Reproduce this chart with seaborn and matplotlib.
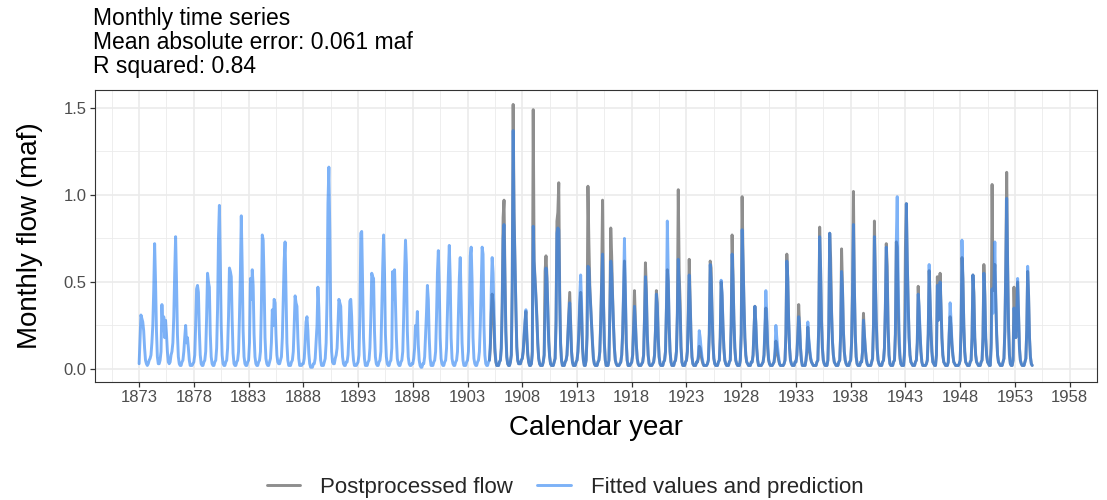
import numpy as np
import pandas as pd
import matplotlib
matplotlib.use("Agg")
import matplotlib.pyplot as plt
import seaborn as sns

# Monthly flow (maf), one row per calendar year, Jan..Dec
fitted_1870s = [  # 1873-1879
    [0.03, 0.17, 0.31, 0.29, 0.27, 0.22, 0.12, 0.05, 0.03, 0.02, 0.03, 0.05],
    [0.06, 0.08, 0.15, 0.25, 0.45, 0.72, 0.50, 0.22, 0.07, 0.03, 0.03, 0.05],
    [0.10, 0.37, 0.22, 0.30, 0.18, 0.28, 0.20, 0.10, 0.04, 0.03, 0.04, 0.08],
    [0.10, 0.15, 0.30, 0.55, 0.76, 0.50, 0.20, 0.07, 0.03, 0.02, 0.02, 0.04],
    [0.05, 0.10, 0.18, 0.25, 0.15, 0.18, 0.12, 0.05, 0.02, 0.02, 0.02, 0.03],
    [0.04, 0.08, 0.25, 0.46, 0.48, 0.44, 0.22, 0.08, 0.03, 0.02, 0.02, 0.04],
    [0.05, 0.10, 0.30, 0.55, 0.50, 0.47, 0.20, 0.07, 0.03, 0.02, 0.02, 0.04],
]
fitted_1880s = [
    [0.05, 0.12, 0.35, 0.75, 0.94, 0.60, 0.25, 0.08, 0.03, 0.02, 0.02, 0.04],
    [0.05, 0.12, 0.30, 0.58, 0.56, 0.53, 0.28, 0.09, 0.03, 0.02, 0.02, 0.04],
    [0.05, 0.10, 0.30, 0.55, 0.88, 0.58, 0.22, 0.07, 0.03, 0.02, 0.02, 0.04],
    [0.05, 0.15, 0.52, 0.40, 0.57, 0.48, 0.20, 0.07, 0.03, 0.02, 0.02, 0.04],
    [0.05, 0.10, 0.35, 0.77, 0.74, 0.50, 0.18, 0.06, 0.03, 0.02, 0.02, 0.04],
    [0.06, 0.15, 0.34, 0.25, 0.40, 0.38, 0.20, 0.08, 0.04, 0.03, 0.03, 0.05],
    [0.07, 0.18, 0.40, 0.62, 0.73, 0.45, 0.15, 0.05, 0.02, 0.02, 0.02, 0.04],
    [0.05, 0.10, 0.25, 0.42, 0.38, 0.36, 0.18, 0.06, 0.02, 0.02, 0.02, 0.03],
    [0.03, 0.06, 0.15, 0.27, 0.30, 0.22, 0.09, 0.03, 0.01, 0.01, 0.01, 0.03],
    [0.03, 0.06, 0.15, 0.25, 0.47, 0.35, 0.15, 0.05, 0.02, 0.02, 0.02, 0.04],
]
fitted_1890s = [
    [0.06, 0.15, 0.40, 0.95, 1.16, 0.80, 0.30, 0.10, 0.04, 0.03, 0.03, 0.06],
    [0.08, 0.12, 0.25, 0.40, 0.38, 0.36, 0.18, 0.07, 0.03, 0.02, 0.02, 0.04],
    [0.04, 0.08, 0.20, 0.39, 0.40, 0.30, 0.12, 0.05, 0.02, 0.02, 0.02, 0.03],
    [0.04, 0.08, 0.30, 0.78, 0.79, 0.50, 0.18, 0.06, 0.02, 0.02, 0.02, 0.04],
    [0.05, 0.12, 0.30, 0.55, 0.53, 0.52, 0.22, 0.07, 0.03, 0.02, 0.02, 0.04],
    [0.05, 0.10, 0.35, 0.58, 0.77, 0.55, 0.20, 0.07, 0.03, 0.02, 0.02, 0.04],
    [0.05, 0.12, 0.56, 0.40, 0.57, 0.38, 0.18, 0.06, 0.03, 0.02, 0.02, 0.04],
    [0.05, 0.10, 0.30, 0.55, 0.74, 0.60, 0.22, 0.07, 0.03, 0.02, 0.02, 0.03],
    [0.03, 0.06, 0.12, 0.25, 0.20, 0.33, 0.14, 0.05, 0.02, 0.01, 0.01, 0.03],
    [0.03, 0.07, 0.20, 0.32, 0.48, 0.40, 0.18, 0.06, 0.02, 0.02, 0.02, 0.04],
]
fitted_1900s = [
    [0.05, 0.10, 0.30, 0.55, 0.68, 0.48, 0.18, 0.06, 0.03, 0.02, 0.02, 0.04],
    [0.05, 0.12, 0.33, 0.54, 0.71, 0.52, 0.18, 0.06, 0.03, 0.02, 0.02, 0.04],
    [0.05, 0.10, 0.30, 0.52, 0.64, 0.40, 0.15, 0.05, 0.02, 0.02, 0.02, 0.04],
    [0.05, 0.10, 0.32, 0.65, 0.70, 0.50, 0.18, 0.06, 0.03, 0.02, 0.02, 0.04],
    [0.05, 0.10, 0.25, 0.48, 0.70, 0.66, 0.25, 0.08, 0.03, 0.02, 0.02, 0.04],
    [0.05, 0.15, 0.45, 0.64, 0.55, 0.32, 0.12, 0.05, 0.02, 0.02, 0.02, 0.04],
    [0.05, 0.12, 0.35, 0.75, 0.83, 0.50, 0.20, 0.07, 0.03, 0.02, 0.02, 0.04],
    [0.08, 0.45, 1.37, 0.85, 0.60, 0.32, 0.12, 0.05, 0.03, 0.03, 0.03, 0.05],
    [0.06, 0.10, 0.20, 0.28, 0.34, 0.20, 0.09, 0.04, 0.02, 0.02, 0.03, 0.08],
    [0.82, 0.60, 0.50, 0.40, 0.28, 0.14, 0.06, 0.03, 0.02, 0.02, 0.02, 0.04],
]
fitted_1910s = [
    [0.08, 0.30, 0.58, 0.52, 0.35, 0.16, 0.07, 0.03, 0.02, 0.02, 0.02, 0.04],
    [0.06, 0.25, 0.78, 0.81, 0.80, 0.40, 0.14, 0.05, 0.02, 0.02, 0.02, 0.04],
    [0.05, 0.08, 0.18, 0.30, 0.38, 0.25, 0.10, 0.04, 0.02, 0.02, 0.02, 0.04],
    [0.05, 0.10, 0.22, 0.42, 0.54, 0.38, 0.14, 0.05, 0.02, 0.02, 0.05, 0.18],
    [0.59, 0.58, 0.45, 0.35, 0.25, 0.14, 0.06, 0.03, 0.02, 0.02, 0.02, 0.04],
    [0.05, 0.10, 0.25, 0.48, 0.66, 0.38, 0.14, 0.05, 0.02, 0.02, 0.02, 0.05],
    [0.30, 0.62, 0.55, 0.40, 0.25, 0.12, 0.05, 0.03, 0.02, 0.02, 0.02, 0.03],
    [0.04, 0.08, 0.20, 0.45, 0.75, 0.45, 0.16, 0.05, 0.02, 0.02, 0.02, 0.03],
    [0.04, 0.08, 0.22, 0.36, 0.26, 0.14, 0.06, 0.03, 0.02, 0.02, 0.02, 0.03],
    [0.04, 0.08, 0.28, 0.53, 0.42, 0.20, 0.08, 0.03, 0.02, 0.02, 0.02, 0.03],
]
fitted_1920s = [
    [0.04, 0.08, 0.22, 0.43, 0.36, 0.18, 0.07, 0.03, 0.02, 0.02, 0.02, 0.04],
    [0.05, 0.10, 0.35, 0.85, 0.55, 0.25, 0.10, 0.04, 0.02, 0.02, 0.02, 0.04],
    [0.05, 0.10, 0.30, 0.63, 0.45, 0.32, 0.12, 0.04, 0.02, 0.02, 0.02, 0.04],
    [0.05, 0.10, 0.30, 0.54, 0.38, 0.18, 0.07, 0.03, 0.02, 0.02, 0.02, 0.04],
    [0.04, 0.08, 0.22, 0.18, 0.12, 0.07, 0.04, 0.02, 0.02, 0.02, 0.02, 0.03],
    [0.05, 0.20, 0.60, 0.52, 0.33, 0.15, 0.06, 0.03, 0.02, 0.02, 0.02, 0.04],
    [0.05, 0.18, 0.51, 0.44, 0.25, 0.12, 0.05, 0.03, 0.02, 0.02, 0.02, 0.04],
    [0.05, 0.25, 0.66, 0.52, 0.28, 0.12, 0.05, 0.03, 0.02, 0.02, 0.02, 0.05],
    [0.20, 0.80, 0.62, 0.38, 0.18, 0.08, 0.04, 0.03, 0.02, 0.02, 0.02, 0.04],
    [0.04, 0.08, 0.22, 0.36, 0.27, 0.12, 0.05, 0.02, 0.02, 0.02, 0.02, 0.03],
]
fitted_1930s = [
    [0.04, 0.08, 0.25, 0.45, 0.32, 0.14, 0.06, 0.03, 0.02, 0.02, 0.02, 0.03],
    [0.04, 0.10, 0.25, 0.18, 0.12, 0.07, 0.03, 0.02, 0.02, 0.02, 0.02, 0.03],
    [0.05, 0.20, 0.62, 0.52, 0.28, 0.12, 0.05, 0.03, 0.02, 0.02, 0.02, 0.04],
    [0.04, 0.08, 0.18, 0.30, 0.24, 0.12, 0.05, 0.02, 0.02, 0.02, 0.02, 0.05],
    [0.12, 0.27, 0.18, 0.12, 0.07, 0.04, 0.03, 0.02, 0.02, 0.02, 0.02, 0.04],
    [0.05, 0.25, 0.76, 0.58, 0.28, 0.12, 0.05, 0.03, 0.02, 0.02, 0.02, 0.05],
    [0.25, 0.78, 0.52, 0.32, 0.16, 0.08, 0.04, 0.03, 0.02, 0.02, 0.02, 0.04],
    [0.05, 0.20, 0.56, 0.46, 0.22, 0.10, 0.05, 0.03, 0.02, 0.02, 0.02, 0.04],
    [0.05, 0.15, 0.44, 0.83, 0.48, 0.20, 0.07, 0.03, 0.02, 0.02, 0.02, 0.04],
    [0.04, 0.10, 0.28, 0.20, 0.12, 0.06, 0.03, 0.02, 0.02, 0.02, 0.02, 0.04],
]
fitted_1940s = [
    [0.06, 0.25, 0.76, 0.52, 0.28, 0.12, 0.05, 0.03, 0.02, 0.02, 0.02, 0.04],
    [0.05, 0.12, 0.35, 0.70, 0.52, 0.24, 0.08, 0.03, 0.02, 0.02, 0.02, 0.04],
    [0.05, 0.20, 0.73, 0.99, 0.52, 0.22, 0.08, 0.03, 0.02, 0.02, 0.02, 0.08],
    [0.30, 0.95, 0.62, 0.38, 0.18, 0.08, 0.04, 0.03, 0.02, 0.02, 0.02, 0.04],
    [0.05, 0.15, 0.43, 0.36, 0.22, 0.10, 0.04, 0.02, 0.02, 0.02, 0.02, 0.03],
    [0.05, 0.20, 0.60, 0.42, 0.22, 0.10, 0.04, 0.03, 0.02, 0.02, 0.08, 0.48],
    [0.28, 0.32, 0.50, 0.36, 0.18, 0.08, 0.04, 0.03, 0.02, 0.02, 0.02, 0.04],
    [0.22, 0.38, 0.28, 0.15, 0.08, 0.04, 0.03, 0.02, 0.02, 0.02, 0.02, 0.03],
    [0.05, 0.22, 0.74, 0.52, 0.25, 0.10, 0.04, 0.03, 0.02, 0.02, 0.02, 0.04],
    [0.05, 0.18, 0.54, 0.42, 0.18, 0.08, 0.04, 0.03, 0.02, 0.02, 0.02, 0.04],
]
fitted_1950s = [  # through Aug 1954
    [0.05, 0.18, 0.55, 0.42, 0.18, 0.08, 0.04, 0.03, 0.02, 0.02, 0.12, 0.46],
    [0.32, 0.48, 0.73, 0.42, 0.20, 0.08, 0.04, 0.03, 0.02, 0.02, 0.02, 0.04],
    [0.06, 0.22, 0.55, 0.98, 0.58, 0.24, 0.08, 0.03, 0.02, 0.02, 0.05, 0.35],
    [0.27, 0.18, 0.32, 0.52, 0.32, 0.12, 0.05, 0.03, 0.02, 0.02, 0.02, 0.04],
    [0.06, 0.22, 0.59, 0.42, 0.18, 0.07, 0.03, 0.02],
]

postprocessed_1900s = [  # 1905-1909
    [0.05, 0.12, 0.32, 0.43, 0.38, 0.24, 0.10, 0.04, 0.02, 0.02, 0.02, 0.04],
    [0.05, 0.12, 0.38, 0.87, 0.97, 0.55, 0.22, 0.07, 0.03, 0.02, 0.02, 0.04],
    [0.08, 0.50, 1.52, 0.90, 0.62, 0.34, 0.13, 0.05, 0.03, 0.03, 0.03, 0.05],
    [0.06, 0.10, 0.18, 0.26, 0.33, 0.18, 0.08, 0.04, 0.02, 0.02, 0.03, 0.10],
    [1.49, 0.62, 0.52, 0.42, 0.30, 0.15, 0.06, 0.03, 0.02, 0.02, 0.02, 0.04],
]
postprocessed_1910s = [
    [0.08, 0.56, 0.65, 0.54, 0.36, 0.16, 0.07, 0.03, 0.02, 0.02, 0.02, 0.04],
    [0.06, 0.28, 0.85, 0.90, 1.07, 0.45, 0.15, 0.05, 0.02, 0.02, 0.02, 0.04],
    [0.05, 0.08, 0.20, 0.32, 0.44, 0.27, 0.10, 0.04, 0.02, 0.02, 0.02, 0.04],
    [0.05, 0.10, 0.20, 0.36, 0.44, 0.32, 0.12, 0.05, 0.02, 0.02, 0.05, 0.20],
    [1.05, 0.73, 0.48, 0.36, 0.25, 0.14, 0.06, 0.03, 0.02, 0.02, 0.02, 0.04],
    [0.05, 0.10, 0.28, 0.51, 0.97, 0.40, 0.15, 0.05, 0.02, 0.02, 0.02, 0.05],
    [0.35, 0.81, 0.65, 0.42, 0.25, 0.12, 0.05, 0.03, 0.02, 0.02, 0.02, 0.03],
    [0.04, 0.08, 0.20, 0.42, 0.62, 0.42, 0.15, 0.05, 0.02, 0.02, 0.02, 0.03],
    [0.04, 0.08, 0.25, 0.45, 0.28, 0.14, 0.06, 0.03, 0.02, 0.02, 0.02, 0.03],
    [0.04, 0.08, 0.30, 0.61, 0.46, 0.20, 0.08, 0.03, 0.02, 0.02, 0.02, 0.03],
]
postprocessed_1920s = [
    [0.04, 0.08, 0.22, 0.45, 0.38, 0.18, 0.07, 0.03, 0.02, 0.02, 0.02, 0.04],
    [0.05, 0.10, 0.33, 0.57, 0.50, 0.24, 0.10, 0.04, 0.02, 0.02, 0.02, 0.04],
    [0.05, 0.10, 0.32, 1.03, 0.55, 0.39, 0.13, 0.04, 0.02, 0.02, 0.02, 0.04],
    [0.05, 0.10, 0.32, 0.63, 0.42, 0.19, 0.07, 0.03, 0.02, 0.02, 0.02, 0.04],
    [0.04, 0.06, 0.13, 0.12, 0.08, 0.05, 0.03, 0.02, 0.02, 0.02, 0.02, 0.03],
    [0.05, 0.20, 0.62, 0.58, 0.34, 0.15, 0.06, 0.03, 0.02, 0.02, 0.02, 0.04],
    [0.05, 0.18, 0.50, 0.42, 0.25, 0.12, 0.05, 0.03, 0.02, 0.02, 0.02, 0.04],
    [0.05, 0.25, 0.77, 0.54, 0.28, 0.12, 0.05, 0.03, 0.02, 0.02, 0.02, 0.05],
    [0.20, 0.99, 0.64, 0.38, 0.18, 0.08, 0.04, 0.03, 0.02, 0.02, 0.02, 0.04],
    [0.04, 0.08, 0.22, 0.36, 0.26, 0.12, 0.05, 0.02, 0.02, 0.02, 0.02, 0.03],
]
postprocessed_1930s = [
    [0.04, 0.08, 0.22, 0.35, 0.27, 0.12, 0.05, 0.03, 0.02, 0.02, 0.02, 0.03],
    [0.04, 0.08, 0.16, 0.12, 0.08, 0.05, 0.03, 0.02, 0.02, 0.02, 0.02, 0.03],
    [0.05, 0.20, 0.66, 0.52, 0.28, 0.12, 0.05, 0.03, 0.02, 0.02, 0.02, 0.04],
    [0.04, 0.08, 0.20, 0.37, 0.24, 0.12, 0.05, 0.02, 0.02, 0.02, 0.02, 0.05],
    [0.10, 0.24, 0.16, 0.10, 0.06, 0.04, 0.03, 0.02, 0.02, 0.02, 0.02, 0.04],
    [0.05, 0.25, 0.815, 0.58, 0.28, 0.12, 0.05, 0.03, 0.02, 0.02, 0.02, 0.05],
    [0.25, 0.78, 0.64, 0.34, 0.16, 0.08, 0.04, 0.03, 0.02, 0.02, 0.02, 0.04],
    [0.05, 0.20, 0.69, 0.47, 0.22, 0.10, 0.05, 0.03, 0.02, 0.02, 0.02, 0.04],
    [0.05, 0.15, 0.44, 1.02, 0.48, 0.20, 0.07, 0.03, 0.02, 0.02, 0.02, 0.04],
    [0.04, 0.10, 0.32, 0.20, 0.12, 0.06, 0.03, 0.02, 0.02, 0.02, 0.02, 0.04],
]
postprocessed_1940s = [
    [0.06, 0.25, 0.85, 0.54, 0.28, 0.12, 0.05, 0.03, 0.02, 0.02, 0.02, 0.04],
    [0.05, 0.12, 0.35, 0.72, 0.59, 0.24, 0.08, 0.03, 0.02, 0.02, 0.02, 0.04],
    [0.05, 0.20, 0.73, 0.70, 0.38, 0.15, 0.06, 0.03, 0.02, 0.02, 0.02, 0.10],
    [0.70, 0.95, 0.62, 0.38, 0.18, 0.08, 0.04, 0.03, 0.02, 0.02, 0.02, 0.04],
    [0.05, 0.15, 0.475, 0.32, 0.20, 0.10, 0.04, 0.02, 0.02, 0.02, 0.02, 0.03],
    [0.05, 0.20, 0.565, 0.40, 0.22, 0.10, 0.04, 0.03, 0.02, 0.02, 0.08, 0.53],
    [0.28, 0.32, 0.55, 0.36, 0.18, 0.08, 0.04, 0.03, 0.02, 0.02, 0.02, 0.04],
    [0.20, 0.30, 0.24, 0.14, 0.08, 0.04, 0.03, 0.02, 0.02, 0.02, 0.02, 0.03],
    [0.05, 0.22, 0.64, 0.52, 0.25, 0.10, 0.04, 0.03, 0.02, 0.02, 0.02, 0.04],
    [0.05, 0.18, 0.54, 0.44, 0.18, 0.08, 0.04, 0.03, 0.02, 0.02, 0.02, 0.04],
]
postprocessed_1950s = [  # through Aug 1954
    [0.05, 0.18, 0.60, 0.44, 0.18, 0.08, 0.04, 0.03, 0.02, 0.02, 0.15, 1.06],
    [0.45, 0.50, 0.60, 0.40, 0.20, 0.08, 0.04, 0.03, 0.02, 0.02, 0.02, 0.04],
    [0.06, 0.22, 0.60, 1.13, 0.62, 0.26, 0.08, 0.03, 0.02, 0.02, 0.05, 0.47],
    [0.27, 0.18, 0.32, 0.50, 0.30, 0.12, 0.05, 0.03, 0.02, 0.02, 0.02, 0.04],
    [0.06, 0.22, 0.56, 0.42, 0.18, 0.07, 0.03, 0.02],
]

fitted_start_year = 1873
postprocessed_start_year = 1905
year_ticks = list(range(1873, 1959, 5))
flow_ticks = [0.0, 0.5, 1.0, 1.5]

series_names = ["Postprocessed flow", "Fitted values and prediction"]
series_colors = ["#8E8E8E", "#2B81F2"]

title_lines = [
    "Monthly time series",
    "Mean absolute error: 0.061 maf",
    "R squared: 0.84",
]


def monthly_frame(decades, start_year, name):
    values = [v for decade in decades for year in decade for v in year]
    time = start_year + np.arange(len(values)) / 12.0
    return pd.DataFrame({"year": time, "flow": values, "series": name})


fitted = monthly_frame(
    [fitted_1870s, fitted_1880s, fitted_1890s, fitted_1900s, fitted_1910s,
     fitted_1920s, fitted_1930s, fitted_1940s, fitted_1950s],
    fitted_start_year, series_names[1])
post = monthly_frame(
    [postprocessed_1900s, postprocessed_1910s, postprocessed_1920s,
     postprocessed_1930s, postprocessed_1940s, postprocessed_1950s],
    postprocessed_start_year, series_names[0])

sns.set_theme(style="white")
plt.rcParams["font.family"] = ["Liberation Sans", "DejaVu Sans"]

fig = plt.figure(figsize=(11.07, 5.0), dpi=100)
ax = fig.add_axes([95 / 1107, 1 - 382 / 500, 1002 / 1107, 292 / 500])

sns.lineplot(data=post, x="year", y="flow", ax=ax, color=series_colors[0],
             linewidth=2.1, estimator=None, sort=False, label=series_names[0])
sns.lineplot(data=fitted, x="year", y="flow", ax=ax, color=series_colors[1],
             alpha=0.61, linewidth=2.1, estimator=None, sort=False,
             label=series_names[1])

ax.set_xlim(1868.97, 1958.75)
ax.set_ylim(-0.075, 1.603)
ax.set_xticks(year_ticks)
ax.set_xticklabels([str(y) for y in year_ticks])
ax.set_xticks([y + 2.5 for y in [year_ticks[0] - 5] + year_ticks], minor=True)
ax.set_yticks(flow_ticks)
ax.set_yticklabels([f"{v:.1f}" for v in flow_ticks])
ax.set_yticks([0.25, 0.75, 1.25], minor=True)

ax.set_axisbelow(True)
ax.grid(which="major", color="#EBEBEB", linewidth=1.2)
ax.grid(which="minor", color="#EBEBEB", linewidth=0.6)
for side in ax.spines.values():
    side.set_visible(True)
    side.set_color("#333333")
    side.set_linewidth(0.8)

ax.tick_params(which="major", bottom=True, left=True, length=3.5, width=0.9,
               color="#333333", labelsize=12, labelcolor="#4D4D4D", pad=2.5)
ax.tick_params(which="minor", bottom=False, left=False, length=0)

ax.set_xlabel("Calendar year", fontsize=20, color="black", va="center")
ax.xaxis.set_label_coords(0.5, (382 - 428) / 292)
ax.set_ylabel("Monthly flow (maf)", fontsize=20, color="black", va="center")
ax.yaxis.set_label_coords((30 - 95) / 1002, 0.5)

for i, line in enumerate(title_lines):
    fig.text(93 / 1107, 1 - (25 + 24 * i) / 500, line, fontsize=16.5,
             color="black", ha="left", va="baseline")

handles, labels = ax.get_legend_handles_labels()
ax.get_legend().remove()
fig.legend(handles, labels, loc="center",
           bbox_to_anchor=(565 / 1107, 1 - 487 / 500),
           ncol=2, frameon=False, fontsize=16, handlelength=1.5,
           handletextpad=0.9, columnspacing=1.1)

fig.savefig("out.png", dpi=100)
